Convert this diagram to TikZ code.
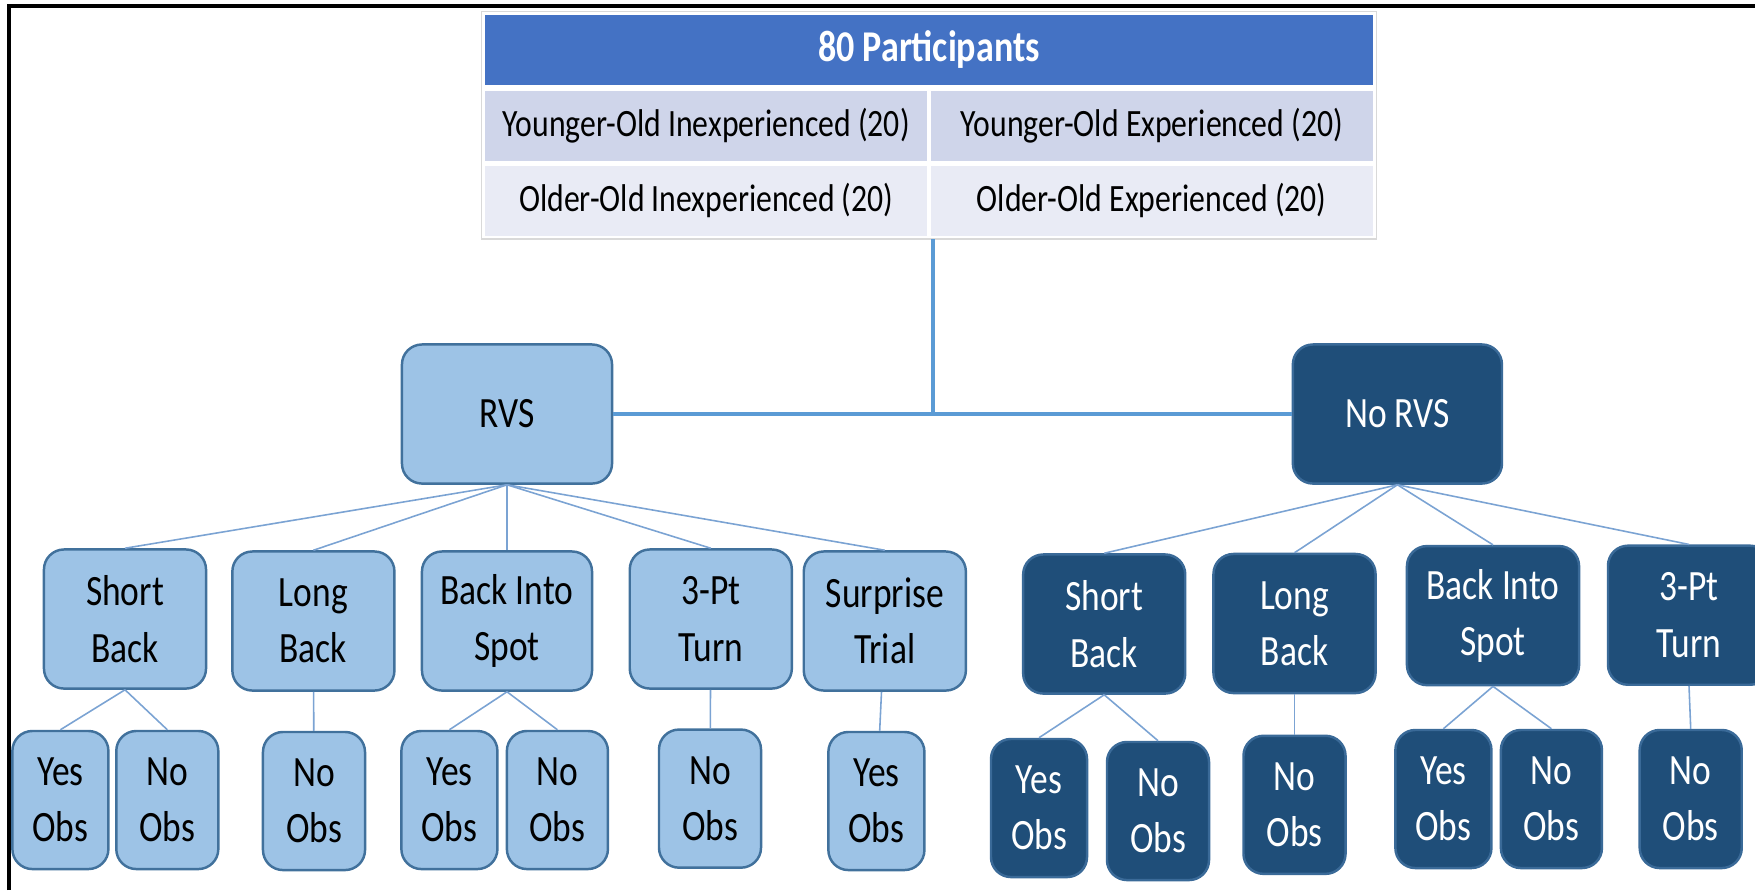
\documentclass[tikz,border=0pt]{standalone}
\usepackage{fontspec}
\setmainfont{Carlito}[FakeStretch=0.82]

\definecolor{headblue}{HTML}{4472C4}
\definecolor{rowdark}{HTML}{CFD5EA}
\definecolor{rowlight}{HTML}{E9EBF5}
\definecolor{rvsfill}{HTML}{9DC3E6}
\definecolor{rvsline}{HTML}{41719C}
\definecolor{norvsfill}{HTML}{1F4E79}
\definecolor{norvsline}{HTML}{3A6A98}
\definecolor{trunkblue}{HTML}{5B9BD5}
\definecolor{twigblue}{HTML}{7BA3D3}

\begin{document}
\begin{tikzpicture}[x=0.01cm, y=-0.01cm,
	cell/.style={draw=white, line width=1pt, minimum width=4.455cm, minimum height=0.73cm, inner sep=0, font=\fontsize{11}{13}\selectfont},
	rvsbox/.style={draw=rvsline, fill=rvsfill, line width=0.7pt, rounded corners=0.2cm, align=center, inner sep=0, font=\fontsize{12.3}{16}\selectfont},
	norvsbox/.style={rvsbox, draw=norvsline, fill=norvsfill, text=white},
	task/.style={minimum width=1.62cm, minimum height=1.39cm},
	obs/.style={minimum width=0.96cm, minimum height=1.38cm},
	trunk/.style={draw=trunkblue, line width=1.1pt},
	twig/.style={draw=twigblue, line width=0.45pt}]
	\useasboundingbox (0,0) rectangle (1755,890);

	% FRAME
	\draw[line width=0.9pt] (9,890) -- (9,6) -- (1755,6);

	% TABLE
	\node[cell, fill=headblue, minimum width=8.91cm, text=white, font=\fontsize{12.5}{14}\selectfont\bfseries] (head) at (929,49.8) {80 Participants};
	\node[cell, fill=rowdark] (yoi) at (706.25,125.9) {Younger-Old Inexperienced (20)};
	\node[cell, fill=rowdark] (yoe) at (1151.75,125.9) {Younger-Old Experienced (20)};
	\node[cell, fill=rowlight] (ooi) at (706.25,200.9) {Older-Old Inexperienced (20)};
	\node[cell, fill=rowlight] (ooe) at (1151.75,200.9) {Older-Old Experienced (20)};
	\draw[black!15, line width=0.4pt] (head.north west) rectangle (ooe.south east);

	% GROUPS
	\node[rvsbox, minimum width=2.1cm, minimum height=1.39cm] (rvs) at (507,414) {RVS};
	\node[norvsbox, minimum width=2.09cm, minimum height=1.39cm] (norvs) at (1397.4,414) {No RVS};
	\coordinate (join) at (933,414);
	\draw[trunk] (rvs.east) -- (norvs.west);
	\draw[trunk] (join) -- (join |- ooi.south);

	% TASKS
	\node[rvsbox, task] (rshort) at (125,619) {Short\\Back};
	\node[rvsbox, task] (rlong) at (313.4,621) {Long\\Back};
	\node[rvsbox, task, minimum width=1.7cm] (rspot) at (507,621) {Back Into\\Spot};
	\node[rvsbox, task] (rturn) at (710.8,619) {3-Pt\\Turn};
	\node[rvsbox, task] (rsurp) at (884.8,621) {Surprise\\Trial};
	\node[norvsbox, task] (nshort) at (1104.2,624) {Short\\Back};
	\node[norvsbox, task] (nlong) at (1294.5,623.5) {Long\\Back};
	\node[norvsbox, task, minimum width=1.72cm] (nspot) at (1493,615.6) {Back Into\\Spot};
	\node[norvsbox, task] (nturn) at (1689,615.2) {3-Pt\\Turn};

	\foreach \t in {rshort,rlong,rspot,rturn,rsurp}
		\draw[twig] (rvs.south) -- (\t.north);
	\foreach \t in {nshort,nlong,nspot,nturn}
		\draw[twig] (norvs.south) -- (\t.north);

	% OBSTACLES
	\node[rvsbox, obs] (rshorty) at (60.4,800) {Yes\\Obs};
	\node[rvsbox, obs, minimum width=1.02cm] (rshortn) at (167.3,800) {No\\Obs};
	\node[rvsbox, obs, minimum width=1.02cm] (rlongn) at (314,801) {No\\Obs};
	\node[rvsbox, obs] (rspoty) at (449.4,800) {Yes\\Obs};
	\node[rvsbox, obs, minimum width=1.01cm] (rspotn) at (557.4,800) {No\\Obs};
	\node[rvsbox, obs, minimum width=1.02cm] (rturnn) at (710,798.6) {No\\Obs};
	\node[rvsbox, obs] (rsurpy) at (876.4,801) {Yes\\Obs};
	\node[norvsbox, obs] (nshorty) at (1039,808) {Yes\\Obs};
	\node[norvsbox, obs, minimum width=1.02cm] (nshortn) at (1158,811) {No\\Obs};
	\node[norvsbox, obs, minimum width=1.02cm] (nlongn) at (1294.5,804.8) {No\\Obs};
	\node[norvsbox, obs] (nspoty) at (1443.4,799) {Yes\\Obs};
	\node[norvsbox, obs, minimum width=1.01cm] (nspotn) at (1551.4,799) {No\\Obs};
	\node[norvsbox, obs, minimum width=1.02cm] (nturnn) at (1690.7,799) {No\\Obs};

	\draw[twig] (rshort.south) -- (rshorty.north);
	\draw[twig] (rshort.south) -- (rshortn.north);
	\draw[twig] (rlong) -- (rlongn);
	\draw[twig] (rspot.south) -- (rspoty.north);
	\draw[twig] (rspot.south) -- (rspotn.north);
	\draw[twig] (rturn) -- (rturnn);
	\draw[twig] (rsurp) -- (rsurpy);
	\draw[twig] (nshort.south) -- (nshorty.north);
	\draw[twig] (nshort.south) -- (nshortn.north);
	\draw[twig] (nlong) -- (nlongn);
	\draw[twig] (nspot.south) -- (nspoty.north);
	\draw[twig] (nspot.south) -- (nspotn.north);
	\draw[twig] (nturn.south) -- (nturnn.north);
\end{tikzpicture}
\end{document}
